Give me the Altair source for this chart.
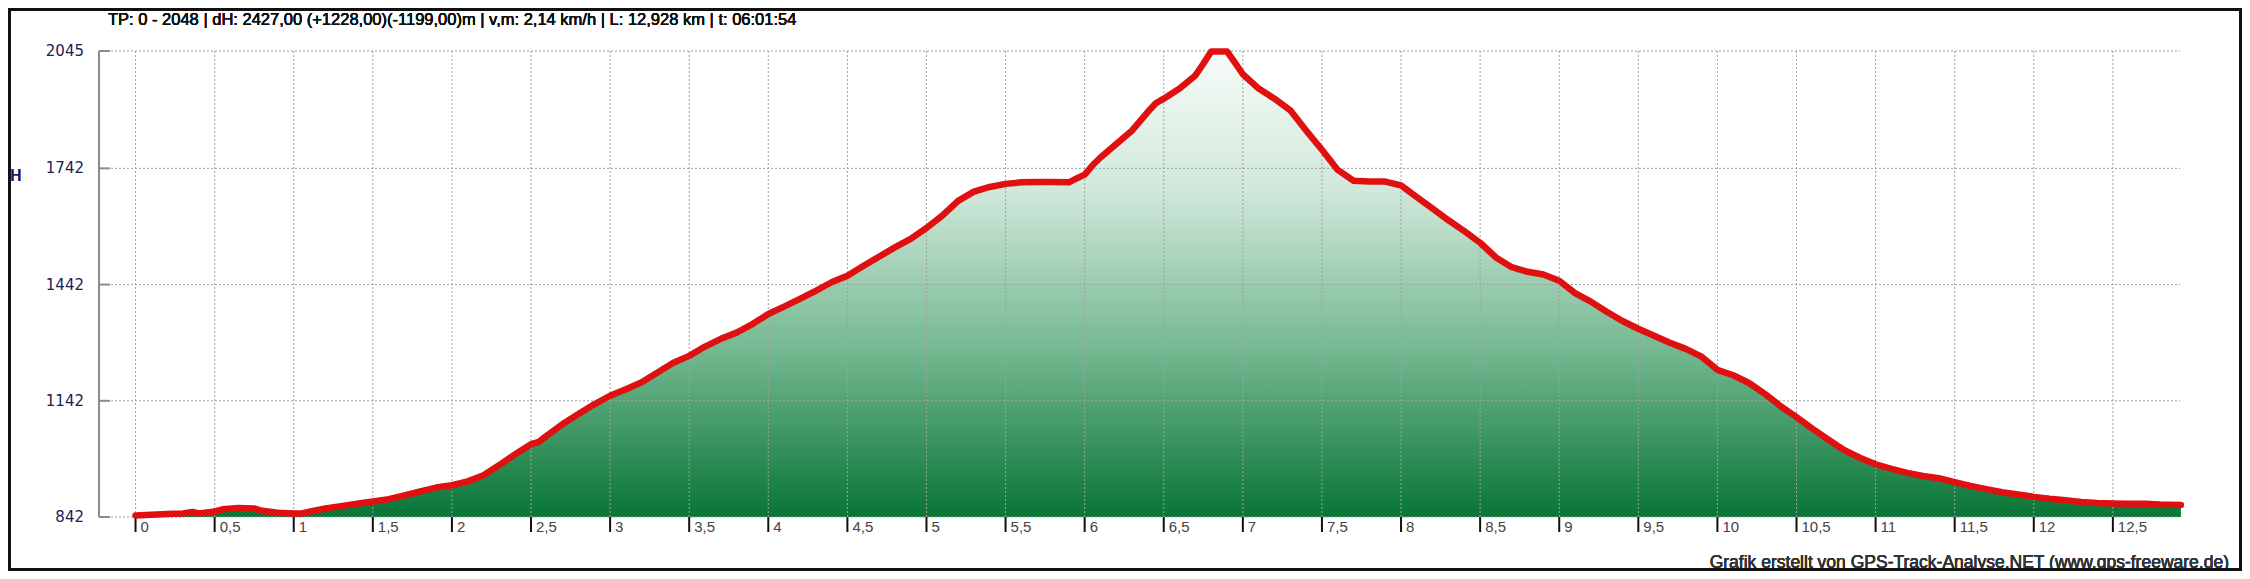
import altair as alt
import pandas as pd

# ---- data ----
km = [0.00, 0.10, 0.20, 0.30, 0.36, 0.40, 0.50, 0.55, 0.65, 0.75, 0.80, 0.90, 1.00, 1.05, 1.10,
      1.20, 1.30, 1.40, 1.50, 1.60, 1.70, 1.80, 1.90, 2.00, 2.10, 2.20, 2.30, 2.40, 2.50, 2.55,
      2.60, 2.70, 2.80, 2.90, 3.00, 3.10, 3.20, 3.30, 3.40, 3.50, 3.60, 3.70, 3.80, 3.90, 4.00,
      4.10, 4.20, 4.30, 4.40, 4.50, 4.60, 4.70, 4.80, 4.90, 5.00, 5.10, 5.20, 5.30, 5.40, 5.50,
      5.60, 5.70, 5.80, 5.90, 5.95, 6.00, 6.05, 6.10, 6.20, 6.30, 6.40, 6.45, 6.50, 6.60, 6.70,
      6.75, 6.80, 6.90, 6.95, 7.00, 7.10, 7.20, 7.30, 7.40, 7.50, 7.60, 7.70, 7.80, 7.90, 8.00,
      8.10, 8.20, 8.30, 8.40, 8.50, 8.60, 8.70, 8.80, 8.90, 9.00, 9.10, 9.20, 9.30, 9.40, 9.50,
      9.60, 9.70, 9.80, 9.90, 10.00, 10.10, 10.20, 10.30, 10.40, 10.50, 10.60, 10.70, 10.80,
      10.90, 11.00, 11.10, 11.20, 11.30, 11.40, 11.50, 11.60, 11.70, 11.80, 11.90, 12.00, 12.10,
      12.20, 12.30, 12.40, 12.50, 12.60, 12.70, 12.80, 12.93]
elev = [846, 848, 850, 851, 855, 851, 856, 862, 865, 864, 858, 853, 851, 851, 856,
        864, 870, 876, 882, 888, 898, 908, 918, 924, 934, 950, 976, 1004, 1030, 1036,
        1052, 1082, 1108, 1133, 1155, 1172, 1190, 1215, 1240, 1258, 1282, 1302, 1318, 1340, 1366,
        1385, 1405, 1426, 1448, 1465, 1490, 1514, 1538, 1560, 1588, 1620, 1658, 1682, 1694, 1702,
        1706, 1707, 1707, 1706, 1716, 1726, 1750, 1770, 1805, 1840, 1888, 1910, 1922, 1948, 1982,
        2012, 2044, 2044, 2015, 1985, 1948, 1922, 1892, 1840, 1790, 1738, 1710, 1708, 1708, 1698,
        1668, 1638, 1608, 1580, 1550, 1512, 1487, 1475, 1468, 1452, 1420, 1398, 1372, 1348, 1328,
        1310, 1292, 1276, 1256, 1222, 1208, 1188, 1160, 1128, 1100, 1070, 1042, 1015,
        995, 978, 966, 956, 948, 942, 932, 922, 914, 906, 900, 894, 889,
        885, 881, 878, 877, 876, 876, 874, 873]

x_ticks = [0, 0.5, 1, 1.5, 2, 2.5, 3, 3.5, 4, 4.5, 5, 5.5, 6, 6.5, 7, 7.5, 8, 8.5, 9, 9.5,
           10, 10.5, 11, 11.5, 12, 12.5]
x_labels = ["0", "0,5", "1", "1,5", "2", "2,5", "3", "3,5", "4", "4,5", "5", "5,5", "6", "6,5",
            "7", "7,5", "8", "8,5", "9", "9,5", "10", "10,5", "11", "11,5", "12", "12,5"]
y_ticks = [842, 1142, 1442, 1742, 2045]
y_labels = ["842", "1142", "1442", "1742", "2045"]

title_text = "TP: 0 - 2048 | dH: 2427,00  (+1228,00)(-1199,00)m | v,m: 2,14 km/h | L: 12,928 km | t: 06:01:54"
credit_text = "Grafik erstellt von GPS-Track-Analyse.NET (www.gps-freeware.de)"

W, H = 2083, 466
XD = [-0.231, 12.937]
YD = [842, 2045]

prof = pd.DataFrame({"km": km, "elev": elev})
xt = pd.DataFrame({"km": x_ticks, "lab": x_labels})
yt = pd.DataFrame({"h": y_ticks, "lab": y_labels})

xs = alt.Scale(domain=XD, nice=False, zero=False)
ys = alt.Scale(domain=YD, nice=False, zero=False)

grad = alt.Gradient(
    gradient="linear", x1=0, x2=0, y1=0, y2=1,
    stops=[alt.GradientStop(color="#f7fcf9", offset=0),
           alt.GradientStop(color="#d0e8da", offset=0.3),
           alt.GradientStop(color="#72b78f", offset=0.65),
           alt.GradientStop(color="#087536", offset=1)])

area = alt.Chart(prof).mark_area(color=grad, interpolate="linear").encode(
    x=alt.X("km:Q", scale=xs, axis=None),
    y=alt.Y("elev:Q", scale=ys, axis=None),
    y2=alt.datum(842))

vgrid = alt.Chart(xt).mark_rule(color="#a0a0a0", strokeDash=[2, 2], strokeWidth=1).encode(
    x=alt.X("km:Q", scale=xs, axis=None), y=alt.value(0), y2=alt.value(H))

hgrid = alt.Chart(yt).mark_rule(color="#a0a0a0", strokeDash=[2, 2], strokeWidth=1).encode(
    y=alt.Y("h:Q", scale=ys, axis=None), x=alt.value(0), x2=alt.value(2081))

yticks_in = alt.Chart(yt).mark_rule(color="#8c8c8c", strokeWidth=2).encode(
    y=alt.Y("h:Q", scale=ys, axis=None), x=alt.value(0), x2=alt.value(11))

yaxis_line = alt.Chart(yt).mark_rule(color="#8c8c8c", strokeWidth=2).encode(
    x=alt.value(0), y=alt.value(0), y2=alt.value(H))

ylabels = alt.Chart(yt).mark_text(align="right", baseline="middle", font="DejaVu Sans",
                                  fontSize=15, color="#1c1c55", dx=-15).encode(
    y=alt.Y("h:Q", scale=ys, axis=None), x=alt.value(0), text="lab:N")

xticks = alt.Chart(xt).mark_rule(color="#111111", strokeWidth=2).encode(
    x=alt.X("km:Q", scale=xs, axis=None), y=alt.value(H), y2=alt.value(H + 15))

xlabels = alt.Chart(xt).mark_text(align="left", baseline="middle", font="Liberation Sans",
                                  fontSize=15, color="#444444", dx=5).encode(
    x=alt.X("km:Q", scale=xs, axis=None), y=alt.value(H + 10), text="lab:N")

line = alt.Chart(prof).mark_line(color="#e01010", strokeWidth=6.5, strokeCap="round",
                                 strokeJoin="round").encode(
    x=alt.X("km:Q", scale=xs, axis=None),
    y=alt.Y("elev:Q", scale=ys, axis=None))

title = alt.Chart(yt).mark_text(align="left", baseline="middle", font="Liberation Sans",
                                fontSize=16.5, fontWeight="normal", color="#111111").encode(
    x=alt.value(9), y=alt.value(-31), text=alt.value(title_text))

hlab = alt.Chart(yt).mark_text(align="center", baseline="middle", font="DejaVu Sans",
                               fontSize=15, color="#1c1c55").encode(
    x=alt.value(-83), y=alt.value(125), text=alt.value("H"))

credit = alt.Chart(yt).mark_text(align="right", baseline="middle", font="Liberation Sans",
                                 fontSize=17.5, color="#333333").encode(
    x=alt.value(2130), y=alt.value(512), text=alt.value(credit_text))

frame = alt.Chart(yt).mark_rect(filled=False, stroke="#111111", strokeWidth=3).encode(
    x=alt.value(-89.5), x2=alt.value(2141.5), y=alt.value(-41.5), y2=alt.value(518.5))

chart = alt.layer(area, vgrid, hgrid, yaxis_line, yticks_in, xticks, line, ylabels, xlabels,
                  title, hlab, credit, frame).properties(
    width=W, height=H,
    autosize=alt.AutoSizeParams(type="none"),
    padding={"left": 91, "top": 43, "right": 60, "bottom": 54},
    background="white",
).configure_view(stroke=None)

chart.save("out.html", embed_options={"renderer": "svg", "actions": False})
